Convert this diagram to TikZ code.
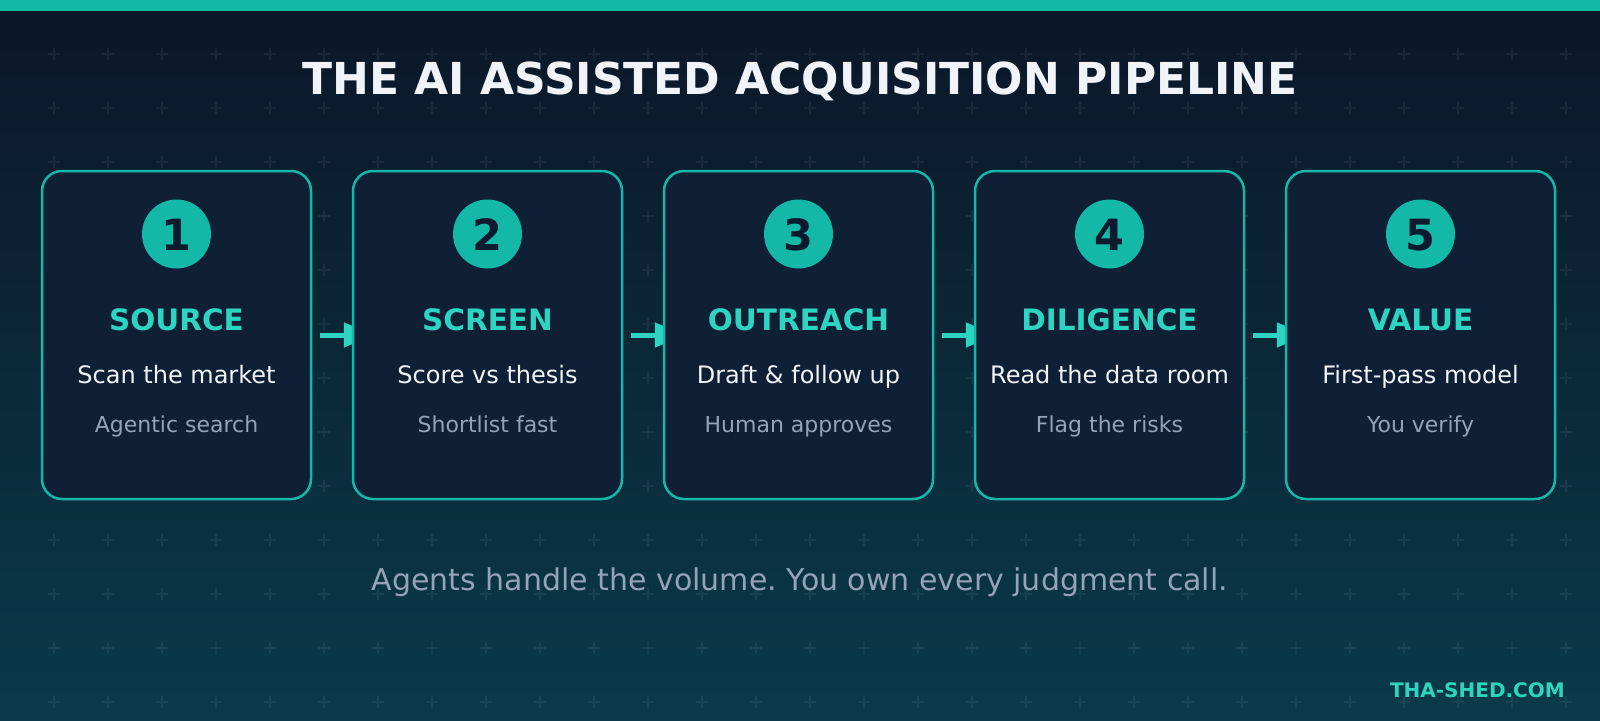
\documentclass[tikz,border=0pt]{standalone}
\usepackage{fontspec}
\setmainfont{DejaVu Sans}
\usetikzlibrary{arrows.meta,calc}
\frenchspacing
\definecolor{tealA}{HTML}{14B8A6}
\definecolor{tealB}{HTML}{2DD4BF}
\definecolor{boxfill}{HTML}{0F1F35}
\definecolor{numcol}{HTML}{0B1A2E}
\definecolor{titlecol}{HTML}{F0F4F8}
\definecolor{bodycol}{HTML}{F1F5F9}
\definecolor{subcol}{HTML}{94A3B8}
\definecolor{bgtop}{HTML}{0B1628}
\definecolor{bgbot}{HTML}{0A3A4A}
\pgfdeclarelayer{bglayer}
\pgfdeclarelayer{arrlayer}
\pgfsetlayers{bglayer,arrlayer,main}
\tikzset{
  stagebox/.style={draw=tealA, line width=2.5pt, fill=boxfill, rounded corners=20pt,
    minimum width=269pt, minimum height=328pt, inner sep=0pt},
  numdisc/.style={circle, fill=tealA, minimum size=69pt, inner sep=0pt},
  numtxt/.style={anchor=base, inner sep=0pt, text=numcol, font=\fontsize{43}{48}\selectfont\bfseries},
  headtxt/.style={anchor=base, inner sep=0pt, text=tealB, font=\fontsize{29.5}{34}\selectfont\bfseries},
  bodytxt/.style={anchor=base, inner sep=0pt, text=bodycol, font=\fontsize{24}{28}\selectfont},
  subtxt/.style={anchor=base, inner sep=0pt, text=subcol, font=\fontsize{22}{26}\selectfont},
  flow/.style={draw=tealB, line width=5pt, -{Triangle[length=30pt,width=24pt]}, shorten <=8pt, shorten >=-22pt},
  plusmark/.style={draw=white, draw opacity=0.06, line width=2pt}
}
\begin{document}
\begin{tikzpicture}[x=1pt,y=-1pt]
\useasboundingbox (0,0) rectangle (1600,720);
\begin{pgfonlayer}{bglayer}
  \shade[top color=bgtop, bottom color=bgbot] (0,0) rectangle (1600,720);
  \foreach \i in {1,...,29}{
    \foreach \j in {1,...,13}{
      \draw[plusmark] (54*\i-6,54*\j) -- ++(12,0) (54*\i,54*\j-6) -- ++(0,12);
    }
  }
  \fill[tealA] (0,0) rectangle (1600,11);
\end{pgfonlayer}

\node[anchor=base, inner sep=0pt, text=titlecol, font=\fontsize{44}{50}\selectfont\bfseries] (title) at (800,94) {THE AI ASSISTED ACQUISITION PIPELINE};

\foreach \t/\a/\b [count=\i] in {SOURCE/Scan the market/Agentic search,
  SCREEN/Score vs thesis/Shortlist fast,
  OUTREACH/Draft \& follow up/Human approves,
  DILIGENCE/Read the data room/Flag the risks,
  VALUE/First-pass model/You verify}{
  \pgfmathsetmacro{\cx}{176.5+311*(\i-1)}
  \node[stagebox] (box\i) at (\cx,335) {};
  \node[numdisc] (disc\i) at (\cx,234) {};
  \node[numtxt] (num\i) at (\cx,250) {\i};
  \node[headtxt] (head\i) at (\cx,330) {\t};
  \node[bodytxt] (body\i) at (\cx,383) {\a};
  \node[subtxt] (sub\i) at (\cx,432) {\b};
}

\begin{pgfonlayer}{arrlayer}
  \foreach \i [evaluate=\i as \j using int(\i+1)] in {1,...,4}{
    \draw[flow] (box\i.east) -- (box\j.west);
  }
\end{pgfonlayer}

\node[anchor=base, inner sep=0pt, text=subcol, font=\fontsize{30}{36}\selectfont] (tagline) at (800,590) {Agents handle the volume. You own every judgment call.};
\node[anchor=base east, inner sep=0pt, text=tealB, font=\fontsize{20}{24}\selectfont\bfseries] (footer) at (1565,697) {THA-SHED.COM};
\end{tikzpicture}
\end{document}
